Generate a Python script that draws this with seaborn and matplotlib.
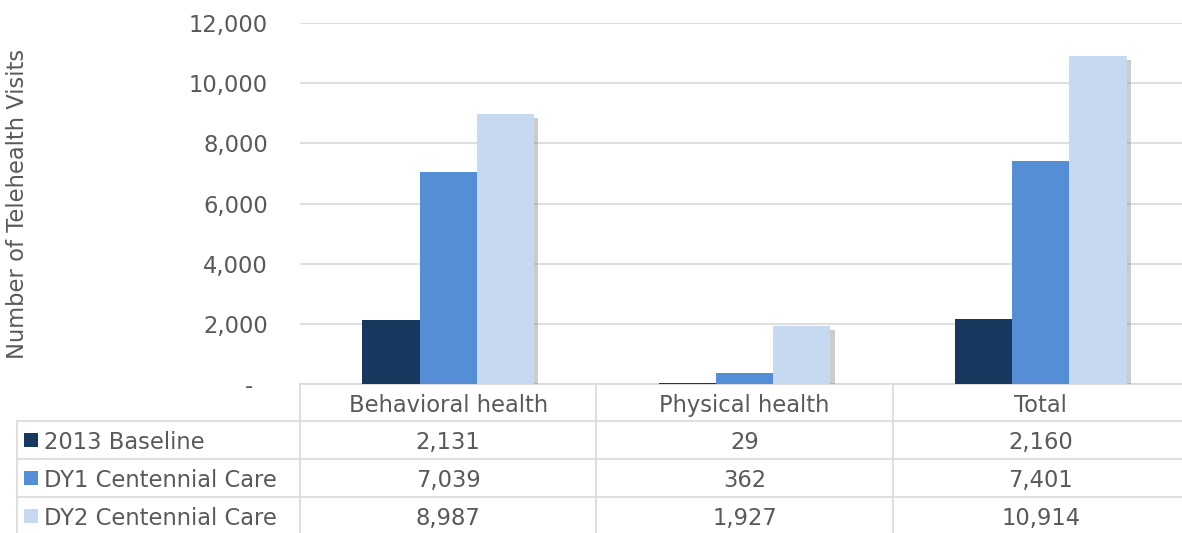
import pandas as pd
import numpy as np
import matplotlib
matplotlib.use("Agg")
import matplotlib.pyplot as plt
import matplotlib.patheffects as pe
from matplotlib.ticker import FuncFormatter
import seaborn as sns

# data
categories = ["Behavioral health", "Physical health", "Total"]
series = ["2013 Baseline", "DY1 Centennial Care", "DY2 Centennial Care"]
baseline_2013 = [2131, 29, 2160]
dy1_cc = [7039, 362, 7401]
dy2_cc = [8987, 1927, 10914]
colors = ["#17375E", "#558ED5", "#C6D9F1"]
y_ticks = [0, 2000, 4000, 6000, 8000, 10000, 12000]

values = [baseline_2013, dy1_cc, dy2_cc]
df = pd.DataFrame({
    "Category": np.repeat([categories], len(series), axis=0).ravel(),
    "Series": np.repeat(series, len(categories)),
    "Visits": np.concatenate(values),
})

sns.set_theme(style="white")
plt.rcParams['font.family'] = ['DejaVu Sans']
txt = "#595959"
grid = "#D9D9D9"
fs = 16.3

W, H = 1182, 533
fig = plt.figure(figsize=(W / 100, H / 100), dpi=100)
ax = fig.add_axes([300 / W, 1 - 384 / H, 889 / W, 361 / H])

sns.barplot(data=df, x="Category", y="Visits", hue="Series", palette=colors,
            width=0.58, saturation=1, ax=ax, legend=False, zorder=3)
for bar in ax.patches:
    bar.set_path_effects([pe.SimplePatchShadow(offset=(3, -3), shadow_rgbFace="#808080", alpha=0.4),
                          pe.Normal()])
    bar.set_linewidth(0)

ax.set_xlim(-0.5, 2.5)
ax.set_ylim(0, 12000)
ax.set_yticks(y_ticks)
ax.yaxis.set_major_formatter(FuncFormatter(lambda v, p: "-  " if v == 0 else f"{v:,.0f}"))
ax.yaxis.grid(True, color=grid, linewidth=1.2, zorder=0)
ax.set_axisbelow(True)
for s in ["top", "right", "left"]:
    ax.spines[s].set_visible(False)
ax.spines["bottom"].set_color(grid)
ax.spines["bottom"].set_linewidth(1.2)
ax.tick_params(axis="y", length=0, pad=23, labelsize=fs, labelcolor=txt)
ax.set_xticks([])
ax.set_xlabel("")
ax.set_ylabel("Number of Telehealth Visits", fontsize=fs, color=txt)
ax.yaxis.set_label_coords(-(300 - 29) / 889, 0.5)

# data table under the plot
def ay(ypx):
    return (384 - ypx) / 361

def axx(xpx):
    return (xpx - 300) / 889

line_kw = dict(color=grid, linewidth=1.2, clip_on=False, transform=ax.transAxes)
row_lines = [421, 459, 497]
for yl in row_lines:
    ax.plot([axx(17), 1.02], [ay(yl), ay(yl)], **line_kw)
ax.plot([axx(17), axx(17)], [ay(421), ay(540)], **line_kw)
for i in range(len(categories) + 1):
    xa = i / len(categories)
    ax.plot([xa, xa], [0, ay(540)], **line_kw)

blend = ax.get_xaxis_transform()
for i, c in enumerate(categories):
    ax.text(i, ay(403), c, transform=blend, ha="center", va="center_baseline",
            fontsize=fs, color=txt)

row_centers = [440, 478, 516]
for r, (name, vals, col) in enumerate(zip(series, values, colors)):
    yc = ay(row_centers[r])
    ax.add_patch(plt.Rectangle((axx(24), yc - 7 / 361), 14 / 889, 14 / 361,
                               transform=ax.transAxes, clip_on=False,
                               facecolor=col, edgecolor="none"))
    ax.text(axx(44), yc, name, transform=ax.transAxes, ha="left", va="center_baseline",
            fontsize=fs, color=txt)
    for i, v in enumerate(vals):
        ax.text(i, yc, f"{v:,}", transform=blend, ha="center", va="center_baseline",
                fontsize=fs, color=txt)

fig.savefig("out.png", dpi=100)
